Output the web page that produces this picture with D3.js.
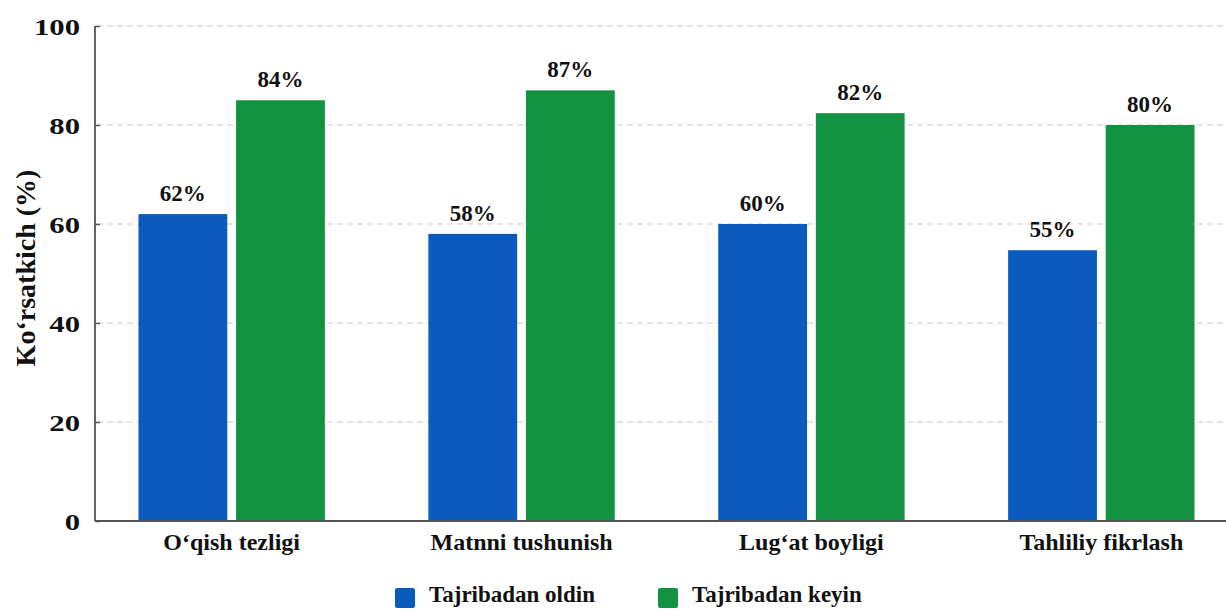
<!DOCTYPE html>
<html>
<head>
<meta charset="utf-8">
<script src="https://cdn.jsdelivr.net/npm/d3@7"></script>
<style>
  html, body { margin: 0; padding: 0; background: #fff; overflow: hidden; }
  svg { display: block; }
  text { font-family: "Liberation Serif", "Times New Roman", serif; font-weight: bold; fill: #111; }
</style>
</head>
<body>
<svg id="chart" width="1226" height="610"></svg>
<script>
// ---- data ----
const categories = ["O‘qish tezligi", "Matnni tushunish", "Lug‘at boyligi", "Tahliliy fikrlash"];
const seriesNames = ["Tajribadan oldin", "Tajribadan keyin"];
const beforeValues = [62, 58, 60, 54.7];
const afterValues = [85, 87, 82.4, 80];
const beforeLabels = ["62%", "58%", "60%", "55%"];
const afterLabels = ["84%", "87%", "82%", "80%"];
const yTicks = [0, 20, 40, 60, 80, 100];
const yLabel = "Ko‘rsatkich (%)";
const colors = ["#0a5bbd", "#139342"];

// ---- layout ----
const svg = d3.select("#chart");
const plotL = 95, plotR = 1238, plotT = 26, plotB = 521;

const x = d3.scaleBand().domain(categories).range([plotL, plotR])
  .paddingInner(0.357).paddingOuter(0.15);
const xs = d3.scaleBand().domain([0, 1]).range([0, x.bandwidth()])
  .paddingInner(0.09).paddingOuter(0);
const y = d3.scaleLinear().domain([0, 100]).range([plotB, plotT]);

// gridlines
svg.append("g").selectAll("line").data(yTicks.filter(d => d > 0)).join("line")
  .attr("x1", plotL + 2).attr("x2", 1226)
  .attr("y1", d => y(d)).attr("y2", d => y(d))
  .attr("stroke", "#cccccc").attr("stroke-width", 1.2)
  .attr("stroke-dasharray", "6,4");

// bars
const rows = categories.map((c, i) => ({
  cat: c,
  vals: [
    { s: 0, v: beforeValues[i], lbl: beforeLabels[i] },
    { s: 1, v: afterValues[i], lbl: afterLabels[i] }
  ]
}));

const g = svg.append("g").selectAll("g").data(rows).join("g")
  .attr("transform", d => `translate(${x(d.cat)},0)`);

g.selectAll("rect").data(d => d.vals).join("rect")
  .attr("x", d => xs(d.s)).attr("width", xs.bandwidth())
  .attr("y", d => y(d.v)).attr("height", d => y(0) - y(d.v))
  .attr("fill", d => colors[d.s]);

g.selectAll("text.val").data(d => d.vals).join("text")
  .attr("class", "val")
  .attr("x", d => xs(d.s) + xs.bandwidth() / 2)
  .attr("y", d => y(d.v) - 13)
  .attr("text-anchor", "middle")
  .style("font-size", "23px")
  .text(d => d.lbl);

// y axis
const yAxis = svg.append("g").attr("transform", `translate(${plotL},0)`)
  .call(d3.axisLeft(y).tickValues(yTicks).tickSize(-5).tickPadding(0));
yAxis.select(".domain").attr("stroke", "#555").attr("stroke-width", 1.8)
  .attr("d", `M0,${plotT}V${plotB}`);
yAxis.selectAll(".tick line").attr("stroke", "#555").attr("stroke-width", 1.5);
yAxis.selectAll(".tick text")
  .attr("x", 0).attr("dy", "0.34em")
  .attr("transform", "translate(-15,0) scale(1.28,1)")
  .attr("text-anchor", "end")
  .style("font-size", "24px")
  .style("font-family", "'Liberation Serif', serif")
  .style("font-weight", "bold")
  .attr("fill", "#111");

// x axis
const xAxis = svg.append("g").attr("transform", `translate(0,${plotB})`)
  .call(d3.axisBottom(x).tickSize(0).tickPadding(0));
xAxis.select(".domain").attr("stroke", "#555").attr("stroke-width", 1.8)
  .attr("d", `M${plotL},0H1226`);
xAxis.selectAll(".tick text")
  .attr("y", 29).attr("dy", 0)
  .style("font-size", "24px")
  .style("font-family", "'Liberation Serif', serif")
  .style("font-weight", "bold")
  .attr("fill", "#111");

// y label
svg.append("text")
  .attr("transform", "translate(35,268) rotate(-90)")
  .attr("text-anchor", "middle")
  .style("font-size", "28px")
  .text(yLabel);

// legend
const legendX = [395, 658];
const leg = svg.append("g").selectAll("g").data(seriesNames).join("g")
  .attr("transform", (d, i) => `translate(${legendX[i]},588)`);
leg.append("rect").attr("width", 20).attr("height", 20).attr("rx", 2)
  .attr("fill", (d, i) => colors[i]);
leg.append("text").attr("x", 34).attr("y", 14)
  .style("font-size", "23px").text(d => d);
</script>
</body>
</html>
